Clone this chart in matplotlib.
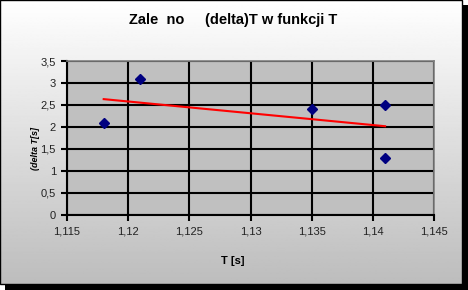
import numpy as np
import matplotlib
matplotlib.use("Agg")
import matplotlib.pyplot as plt
from matplotlib.patches import Rectangle
from matplotlib.ticker import FuncFormatter, MultipleLocator

plt.rcParams['font.family'] = ['Liberation Sans', 'DejaVu Sans']

# measured data
period_T = [1.118, 1.121, 1.135, 1.141, 1.141]
delta_T = [2.1, 3.1, 2.4, 2.5, 1.3]

title = "Zale  no     (delta)T w funkcji T"
xlabel = "T [s]"
ylabel = "(delta T[s]"

W, H = 468, 290
fig = plt.figure(figsize=(W / 100, H / 100), dpi=100)

# background: gradient box with black drop shadow
bg = fig.add_axes([0, 0, 1, 1], zorder=-10)
bg.set_xlim(0, W)
bg.set_ylim(H, 0)
bg.axis("off")
grad = np.linspace(1.0, 0.74, 256).reshape(-1, 1)
bg.imshow(grad, cmap="gray", vmin=0, vmax=1, extent=[0, 462, 284, 0], aspect="auto")
bg.add_patch(Rectangle((462, 5), 6, 285, color="black", lw=0))
bg.add_patch(Rectangle((5, 284), 463, 6, color="black", lw=0))
bg.add_patch(Rectangle((0, 0), 462, 284, fill=False, ec="black", lw=1))

ax = fig.add_axes([67 / W, 75 / H, 367 / W, 154 / H])
ax.set_facecolor("#c0c0c0")
ax.set_xlim(1.115, 1.145)
ax.set_ylim(0, 3.5)
ax.xaxis.set_major_locator(MultipleLocator(0.005))
ax.yaxis.set_major_locator(MultipleLocator(0.5))
comma = FuncFormatter(lambda v, p: ("%g" % round(v, 4)).replace(".", ","))
ax.xaxis.set_major_formatter(comma)
ax.yaxis.set_major_formatter(comma)
ax.set_axisbelow(True)
ax.grid(True, color="black", lw=1.5)
for s in ["top", "right"]:
    ax.spines[s].set_color("#808080")
    ax.spines[s].set_linewidth(1.2)
for s in ["left", "bottom"]:
    ax.spines[s].set_color("black")
    ax.spines[s].set_linewidth(1.5)
ax.tick_params(direction="out", length=4, width=1.5, labelsize=8,
               labelcolor="#222222", pad=4)

ax.plot(period_T, delta_T, linestyle="none", marker="D", ms=5.2,
        color="#000080", zorder=3)

# linear trend line
k, b = np.polyfit(period_T, delta_T, 1)
xs = np.array([min(period_T), max(period_T)])
ax.plot(xs, k * xs + b, color="red", lw=1.5, zorder=2)

fig.text(233 / W, 1 - 20 / H, title, ha="center", va="center",
         fontsize=10.5, fontweight="bold")
fig.text(233 / W, 1 - 261 / H, xlabel, ha="center", va="center",
         fontsize=8, fontweight="bold")
fig.text(36 / W, 1 - 148 / H, ylabel, ha="center", va="center",
         fontsize=6.5, fontweight="bold", style="italic", rotation=90)

fig.savefig("out.png", dpi=100)
